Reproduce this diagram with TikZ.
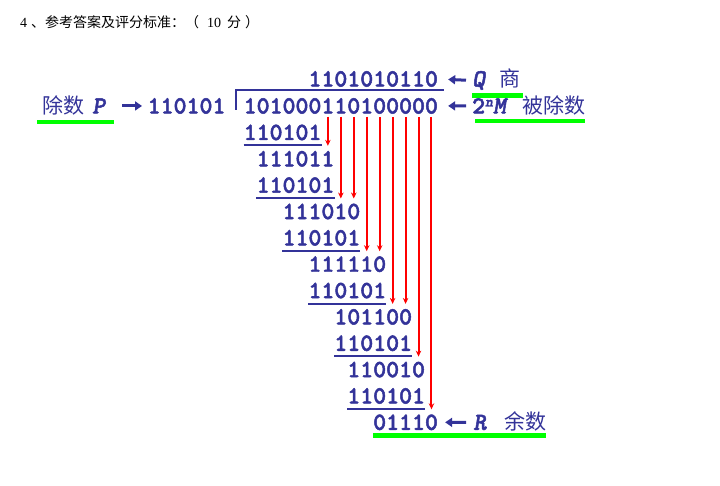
\documentclass[tikz,border=0pt]{standalone}
\usepackage{fontspec}
\usepackage{tikz}
\usetikzlibrary{calc,arrows.meta}
\newfontfamily\cjkfont{Noto Sans CJK SC}
\newfontfamily\seriffont{Liberation Serif}
\newfontfamily\binfont{lmmonolt10-bold.otf}[ItalicFont=lmmonolt10-boldoblique.otf,FakeBold=2]
\definecolor{txtblue}{RGB}{51,51,153}
\definecolor{barlime}{RGB}{0,255,0}
\tikzset{>=stealth,
  bits/.style={inner sep=0pt, anchor=base west, text=txtblue,
    font=\binfont\fontsize{24.67}{24.67}\selectfont},
  word/.style={inner sep=0pt, anchor=base west, text=txtblue,
    font=\cjkfont\fontsize{21}{21}\selectfont},
  minus/.style={txtblue, line width=2pt},
  bring/.style={red, line width=2pt, -{Stealth[length=6pt,width=5.5pt]},
    shorten <=3pt, shorten >=5pt},
  point/.style={txtblue, line width=3pt, -{Triangle[length=7pt,width=9pt]}},
  hilite/.style={barlime, line width=4.5pt}}

\begin{document}
\begin{tikzpicture}[x=1pt,y=-1pt]
  \useasboundingbox (0,0) rectangle (720,486);
  \def\cw{12.95}
  \def\xo{243.5}
  \node[anchor=base west, inner sep=0pt, text=black,
    font=\cjkfont\fontsize{14}{14}\selectfont] (title) at (20,28)
    {{\seriffont 4}\hspace{4pt}、参考答案及评分标准：（\hspace{8pt}{\seriffont 10}\hspace{6pt}分\hspace{4pt}）};
  \node[bits] (quot) at ({\xo+5*\cw},86.5) {1101010110};
  \foreach \b [count=\i from 0] in {1,0,1,0,0,0,1,1,0,1,0,0,0,0,0}
    \node[bits] (d\i) at ({\xo+\i*\cw},113.5) {\b};
  \draw[minus] ([shift={(-8,-3.5)}]d0.base west) |- ([shift={(6,4)}]quot.base east);
  \foreach \p/\v [count=\k] in {0/110101,1/111011,1/110101,3/111010,3/110101,5/111110,
      5/110101,7/101100,7/110101,8/110010,8/110101,10/01110}
    \node[bits] (r\k) at ({\xo+\p*\cw},{140+(\k-1)*26.35}) {\v};
  \foreach \k in {1,3,...,11}
    \draw[minus] ([yshift=-5.5pt]r\k.base west) -- ([yshift=-5.5pt]r\k.base east);
  \foreach \i/\k in {6/2,7/4,8/4,9/6,10/6,11/8,12/8,13/10,14/12}
    \draw[bring] (d\i.south) -- (d\i.south |- r\k.north);
  \node[word] (divword) at (42,113.5) {除数};
  \node[bits] (pvar) at (92,113.5) {\itshape P};
  \node[bits] (dvs) at (147.5,113.5) {110101};
  \node[bits] (qvar) at (472,86.5) {\itshape Q};
  \node[word] (qword) at (499,86.5) {商};
  \node[bits] (mvar) at (472,113.5) {2{\fontsize{15}{15}\selectfont\itshape\raisebox{7pt}{n}}\itshape M};
  \node[word] (mword) at (522,113.5) {被除数};
  \node[bits] (rvar) at ([xshift=35pt]r12.base east) {\itshape R};
  \node[word] (rword) at (504,{140+11*26.35}) {余数};
  \begin{scope}[point]
    \draw[shorten <=17pt, shorten >=5.5pt] (pvar.east) -- (dvs.west);
    \draw[shorten <=6pt, shorten >=10pt] (qvar.west) -- (quot.east);
    \draw[shorten <=6pt, shorten >=10pt] (mvar.west) -- (d14.east);
    \draw[shorten <=7pt, shorten >=7pt] (rvar.west) -- (r12.east);
  \end{scope}
  \draw[hilite] ([shift={(-5,8.5)}]divword.base west) -- ([shift={(9,8.5)}]pvar.base east);
  \draw[hilite] ([yshift=-9pt]qvar.base west) -- ([shift={(3,9)}]qword.base east);
  \draw[hilite] ([shift={(3,7.5)}]mvar.base west) -- ([yshift=-7.5pt]mword.base east);
  \draw[hilite] ([yshift=-5.5pt]r12.base west) -- ([yshift=-5.5pt]rword.base east);
\end{tikzpicture}
\end{document}
